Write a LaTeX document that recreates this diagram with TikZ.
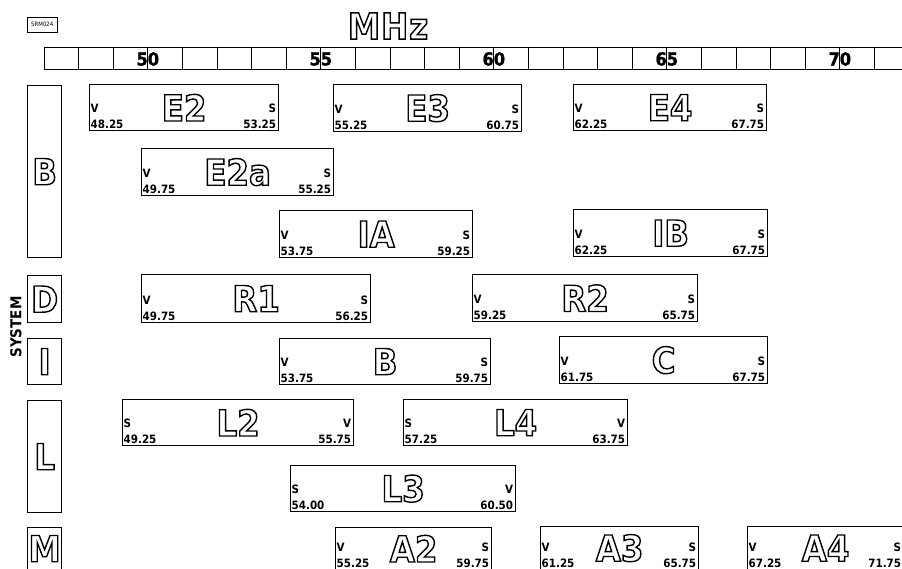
\documentclass[tikz,border=0pt]{standalone}
\usepackage{fontspec}
\setmainfont{DejaVu Sans Condensed}
\newfontfamily\heavy[FakeBold=1.2]{DejaVu Sans Condensed Bold}
\newcommand\hollow[1]{\special{pdf:literal direct 1 Tr 1.4 w}#1\special{pdf:literal direct 0 Tr}}
\tikzset{
  chbox/.style={draw, line width=1.3pt, inner sep=0pt, anchor=north west},
  bigl/.style={font=\bfseries\fontsize{36}{36}\selectfont, inner sep=0pt},
  smallt/.style={font=\bfseries\fontsize{11.5}{12}\selectfont, inner sep=0pt},
  barnum/.style={font=\heavy\fontsize{18}{18}\selectfont, inner sep=0pt},
  tick/.style={line width=0.8pt},
}
\begin{document}
\begin{tikzpicture}[x=1pt,y=-1pt]
\useasboundingbox (0,0) rectangle (902,569);
\fill[white] (0,0) rectangle (902,569);
\clip (0,0) rectangle (902,568.4);

% reference label
\node[draw, line width=0.5pt, minimum width=30pt, minimum height=15pt, inner sep=0pt,
      anchor=north west, font=\fontsize{6}{6}\selectfont] (srm) at (27,17) {SRM024};

% MHz title
\node[bigl, font=\bfseries\fontsize{36}{36}\selectfont] (mhz) at (388,26) {\hollow{M\kern1pt H\kern1pt z}};

% frequency scale bar
\node[chbox, minimum width=870pt, minimum height=22pt] (bar) at (44,47) {};
\foreach \i in {1,...,25} \draw[tick] ({44+\i*34.6},47) -- ({44+\i*34.6},69);
\foreach \v/\k in {50/3,55/8,60/13,65/18,70/23}
  \node[barnum] (n\v) at ({44+\k*34.6},59) {\v};

% system column
\foreach \n/\ya/\yb/\l in {sB/85/257/B, sD/275/322/D, sI/338/384/I, sL/400/512/L, sM/527/569/M} {
  \node[chbox, minimum width=34pt, minimum height={(\yb-\ya)*1pt}] (\n) at (27,\ya) {};
  \node[bigl] (\n-t) at (\n.center) {\hollow{\l}};
}
\node[rotate=90, font=\bfseries\fontsize{15}{15}\selectfont, inner sep=0pt] (sys) at (16,327) {SYSTEM};

% channels
\foreach \n/\xa/\ya/\xb/\yb/\lab/\lt/\ln/\rt/\rn in {
  chE2/89/84/278/130/E2/V/48.25/S/53.25,
  chE3/333/84/521/131/E3/V/55.25/S/60.75,
  chE4/573/84/766/130/E4/V/62.25/S/67.75,
  chE2a/141/148/333/195/E2a/V/49.75/S/55.25,
  chIA/279/210/472/257/IA/V/53.75/S/59.25,
  chIB/573/209/767/256/IB/V/62.25/S/67.75,
  chR1/141/274/370/322/R1/V/49.75/S/56.25,
  chR2/472/274/697/321/R2/V/59.25/S/65.75,
  chB/279/338/490/384/B/V/53.75/S/59.75,
  chC/559/336/767/383/C/V/61.75/S/67.75,
  chL2/122/399/353/445/L2/S/49.25/V/55.75,
  chL4/403/399/627/445/L4/S/57.25/V/63.75,
  chL3/290/465/515/511/L3/S/54.00/V/60.50,
  chA2/335/527/491/569/A2/V/55.25/S/59.75,
  chA3/540/526/698/569/A3/V/61.25/S/65.75,
  chA4/747/526/903/569/A4/V/67.25/S/71.75} {
  \node[chbox, minimum width={(\xb-\xa)*1pt}, minimum height={(\yb-\ya)*1pt}] (\n) at (\xa,\ya) {};
  \node[bigl] (\n-l) at (\n.center) {\hollow{\lab}};
  \node[smallt, anchor=base west] (\n-ln) at ([xshift=1.5pt,yshift=2.5pt]\n.south west) {\ln};
  \node[smallt, anchor=base west] (\n-lt) at ([xshift=1.5pt,yshift=19pt]\n.south west) {\lt};
  \node[smallt, anchor=base east] (\n-rn) at ([xshift=-3pt,yshift=2.5pt]\n.south east) {\rn};
  \node[smallt, anchor=base east] (\n-rt) at ([xshift=-3pt,yshift=19pt]\n.south east) {\rt};
}
\end{tikzpicture}
\end{document}
